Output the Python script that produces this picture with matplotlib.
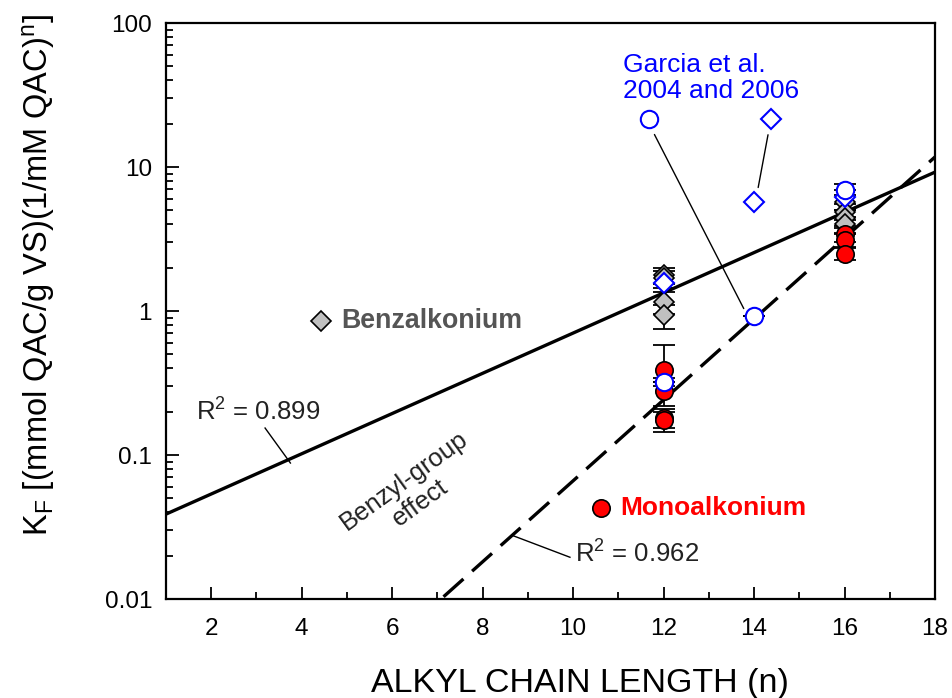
import numpy as np
import matplotlib
matplotlib.use("Agg")
import matplotlib.pyplot as plt

plt.rcParams['font.family'] = ['Liberation Sans', 'DejaVu Sans']
plt.rcParams['mathtext.fontset'] = 'custom'
plt.rcParams['mathtext.rm'] = 'Liberation Sans'
plt.rcParams['mathtext.it'] = 'Liberation Sans'

# ---- data ----
benz_x = [12, 12, 12, 12, 16, 16, 16, 16]
benz_y = [1.78, 1.70, 1.15, 0.94, 5.7, 4.9, 4.4, 4.0]
benz_lo = [1.55, 1.45, 0.95, 0.75, 5.0, 4.3, 3.9, 3.5]
benz_hi = [1.98, 1.90, 1.35, 1.10, 6.4, 5.5, 5.0, 4.5]

mono_x = [12, 12, 12, 12, 16, 16, 16]
mono_y = [0.39, 0.28, 0.18, 0.175, 3.4, 3.1, 2.5]
mono_lo = [0.30, 0.22, 0.155, 0.145, 3.0, 2.8, 2.25]
mono_hi = [0.58, 0.34, 0.21, 0.20, 3.8, 3.4, 2.75]

garcia_circ_x = [12, 14, 16]
garcia_circ_y = [0.32, 0.92, 6.9]
garcia_circ_hi = [0.32, 0.92, 7.6]
garcia_diam_x = [12, 14, 16]
garcia_diam_y = [1.56, 5.7, 6.2]

# regression lines: log10(K) = a + b*n
solid_a, solid_b = -1.55, 0.1397
dash_a, dash_b = -3.99, 0.2811

xticks = [2, 4, 6, 8, 10, 12, 14, 16, 18]
yticks = [0.01, 0.1, 1, 10, 100]
ytick_labels = ['0.01', '0.1', '1', '10', '100']

fig = plt.figure(figsize=(9.53, 6.98), dpi=100)
ax = fig.add_axes([0.1742, 0.1418, 0.8069, 0.8252])
ax.set_yscale('log')
ax.set_xlim(1, 18)
ax.set_ylim(0.01, 100)

# lines
nn = np.linspace(1, 18, 200)
ax.plot(nn, 10 ** (solid_a + solid_b * nn), color='black', lw=2.4, zorder=2)
ax.plot(nn, 10 ** (dash_a + dash_b * nn), color='black', lw=2.4,
        dashes=(8, 3.5), zorder=2)

ms = 12.5
dms = 12.5
# error bars
def ebar(x, y, lo, hi):
    y = np.array(y); lo = np.array(lo); hi = np.array(hi)
    ax.errorbar(x, y, yerr=[y - lo, hi - y], fmt='none', ecolor='black',
                elinewidth=1.3, capsize=8, capthick=1.3, zorder=3)

ebar(benz_x, benz_y, benz_lo, benz_hi)
ebar(mono_x, mono_y, mono_lo, mono_hi)
ebar(garcia_circ_x, garcia_circ_y, garcia_circ_y, garcia_circ_hi)

ax.plot(benz_x, benz_y, linestyle='none', marker='D', ms=dms * 0.8,
        mfc='#c0c0c0', mec='black', mew=1.2, zorder=4)
ax.plot(mono_x, mono_y, linestyle='none', marker='o', ms=ms,
        mfc='red', mec='black', mew=1.2, zorder=4)
ax.plot(garcia_diam_x, garcia_diam_y, linestyle='none', marker='D', ms=dms * 0.8,
        mfc='white', mec='blue', mew=1.5, zorder=5)
ax.plot(garcia_circ_x, garcia_circ_y, linestyle='none', marker='o', ms=ms,
        mfc='white', mec='blue', mew=1.5, zorder=5)

# legend-like annotations
ax.plot([4.43], [0.85], marker='D', ms=dms * 0.8, mfc='#c0c0c0', mec='black',
        mew=1.2, linestyle='none', zorder=4)
ax.text(4.88, 0.85, 'Benzalkonium', color='#555555', fontsize=19.3,
        fontweight='bold', va='center', ha='left')
ax.plot([10.62], [0.043], marker='o', ms=ms, mfc='red', mec='black',
        mew=1.2, linestyle='none', zorder=4)
ax.text(11.05, 0.043, 'Monoalkonium', color='red', fontsize=19,
        fontweight='bold', va='center', ha='left')

ax.text(11.1, 41.5, 'Garcia et al.\n2004 and 2006', color='blue', fontsize=19,
        ha='left', va='center', linespacing=1.1)
ax.plot([11.68], [21.5], marker='o', ms=ms, mfc='white', mec='blue', mew=1.5,
        linestyle='none', zorder=5)
ax.plot([14.37], [21.5], marker='D', ms=dms * 0.8, mfc='white', mec='blue',
        mew=1.5, linestyle='none', zorder=5)
ax.annotate('', xy=(13.8, 1.0), xytext=(11.77, 17.5),
            arrowprops=dict(arrowstyle='-', color='black', lw=1))
ax.annotate('', xy=(14.08, 6.9), xytext=(14.32, 17.5),
            arrowprops=dict(arrowstyle='-', color='black', lw=1))

# R^2 labels
ax.text(3.03, 0.20, r'R$^2$ = 0.899', fontsize=18.5, color='#222222',
        ha='center', va='center')
ax.plot([3.19, 3.75], [0.154, 0.088], color='black', lw=1)
ax.text(10.04, 0.0205, r'R$^2$ = 0.962', fontsize=18.5, color='#222222',
        ha='left', va='center')
ax.plot([8.65, 9.93], [0.0277, 0.0195], color='black', lw=1)

ax.text(6.44, 0.0553, 'Benzyl-group\neffect', fontsize=18.5, rotation=36,
        ha='center', va='center', linespacing=1.2, color='#222222')

# axes styling
ax.set_xticks(xticks)
ax.set_xticklabels([str(t) for t in xticks])
ax.set_xticks([3, 5, 7, 9, 11, 13, 15, 17], minor=True)
ax.set_yticks(yticks)
ax.set_yticklabels(ytick_labels)
ax.yaxis.set_minor_locator(matplotlib.ticker.LogLocator(base=10, subs=np.arange(2, 10)))
ax.yaxis.set_minor_formatter(matplotlib.ticker.NullFormatter())
ax.tick_params(which='both', direction='in', width=1.3, labelsize=17.5, color='black')
ax.tick_params(which='major', length=9)
ax.tick_params(which='minor', length=5)
ax.tick_params(axis='x', which='major', pad=14)
ax.tick_params(axis='y', which='major', pad=10)
for s in ax.spines.values():
    s.set_linewidth(1.6)

ax.set_xlabel('ALKYL CHAIN LENGTH (n)', fontsize=24.5)
ax.xaxis.set_label_coords(0.538, -0.12)
ax.set_ylabel(r'K$_\mathrm{F}$ [(mmol QAC/g VS)(1/mM QAC)$^\mathrm{n}$]', fontsize=23.5)
ax.yaxis.set_label_coords(-0.142, 0.5625)

fig.savefig('out.png', dpi=100)
